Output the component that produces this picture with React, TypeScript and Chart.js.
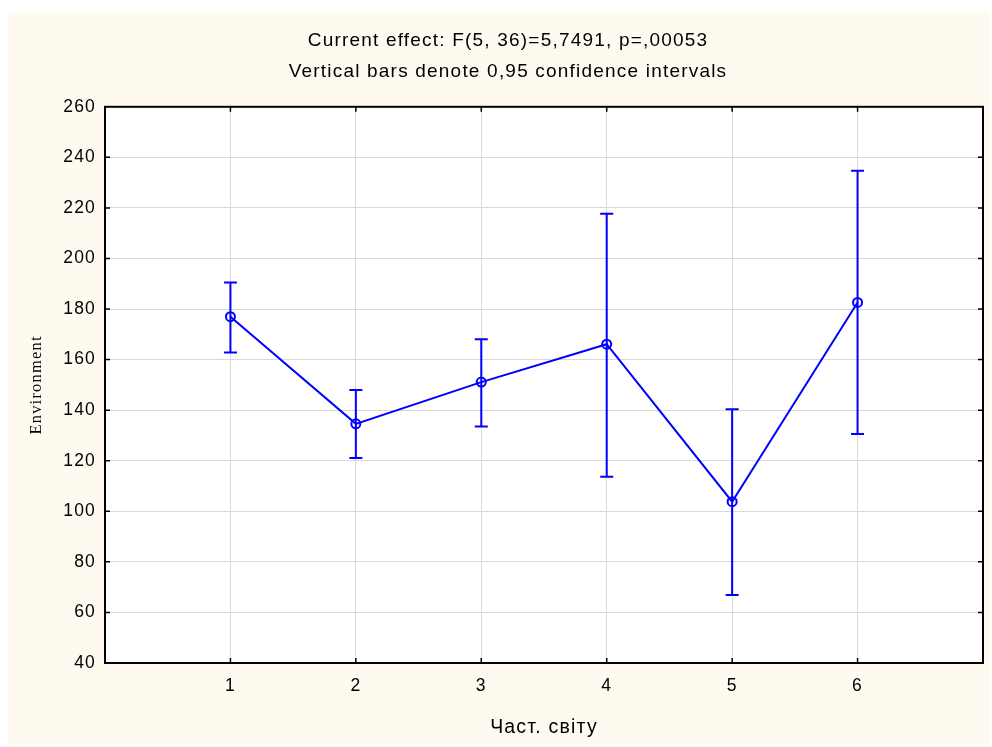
import React, { useEffect, useRef } from 'react';
import { Chart, registerables } from 'chart.js';

Chart.register(...registerables);

// ---- data ----
const groups = [1, 2, 3, 4, 5, 6];
const means = [177.0, 134.6, 151.1, 166.1, 103.8, 182.6];
const upper = [190.5, 148.0, 168.1, 217.7, 140.4, 234.7];
const lower = [162.8, 121.1, 133.5, 113.7, 66.9, 130.6];
const titleLines = [
  'Current effect: F(5, 36)=5,7491, p=,00053',
  'Vertical bars denote 0,95 confidence intervals',
];
const xTitle = 'Част. світу';
const yTitle = 'Environment';
const yMin = 40;
const yMax = 260;
const yStep = 20;
const xMin = 0;
const xMax = 7;

const CREAM = '#FFFAF0';
const BLUE = '#0000FF';
const SPACING = '1.2px';

const spacingPlugin = {
  id: 'spacing',
  beforeUpdate(chart: any) {
    chart.ctx.letterSpacing = SPACING;
  },
  beforeDraw(chart: any) {
    chart.ctx.letterSpacing = SPACING;
  },
};

const backgroundPlugin = {
  id: 'bg',
  beforeDraw(chart: any) {
    const { ctx, chartArea, width, height } = chart;
    ctx.save();
    ctx.fillStyle = CREAM;
    ctx.fillRect(0, 0, width, height);
    ctx.fillStyle = '#FFFFFF';
    ctx.fillRect(chartArea.left, chartArea.top, chartArea.right - chartArea.left, chartArea.bottom - chartArea.top);
    ctx.restore();
  },
};

const errorBarPlugin = {
  id: 'errbars',
  beforeDatasetsDraw(chart: any) {
    const { ctx } = chart;
    const x = chart.scales.x;
    const y = chart.scales.y;
    ctx.save();
    ctx.strokeStyle = BLUE;
    ctx.lineWidth = 2;
    groups.forEach((g, i) => {
      const px = x.getPixelForValue(g);
      const yt = y.getPixelForValue(upper[i]);
      const yb = y.getPixelForValue(lower[i]);
      ctx.beginPath();
      ctx.moveTo(px, yt);
      ctx.lineTo(px, yb);
      ctx.moveTo(px - 6.5, yt);
      ctx.lineTo(px + 6.5, yt);
      ctx.moveTo(px - 6.5, yb);
      ctx.lineTo(px + 6.5, yb);
      ctx.stroke();
    });
    ctx.restore();
  },
};

const framePlugin = {
  id: 'frame',
  afterDraw(chart: any) {
    const { ctx, chartArea } = chart;
    const { left, right, top, bottom } = chartArea;
    const x = chart.scales.x;
    const y = chart.scales.y;
    ctx.save();
    ctx.strokeStyle = '#000000';
    ctx.lineWidth = 1.5;
    ctx.beginPath();
    y.ticks.forEach((t: any) => {
      if (t.value <= yMin || t.value >= yMax) return;
      const py = y.getPixelForValue(t.value);
      ctx.moveTo(left, py);
      ctx.lineTo(left + 5, py);
      ctx.moveTo(right - 5, py);
      ctx.lineTo(right, py);
    });
    x.ticks.forEach((t: any) => {
      if (t.value <= xMin || t.value >= xMax) return;
      const px = x.getPixelForValue(t.value);
      ctx.moveTo(px, bottom);
      ctx.lineTo(px, bottom - 5);
      ctx.moveTo(px, top);
      ctx.lineTo(px, top + 5);
    });
    ctx.stroke();
    ctx.lineWidth = 2;
    ctx.strokeRect(left, top, right - left, bottom - top);
    ctx.restore();
  },
};

export default function App() {
  const ref = useRef<HTMLCanvasElement | null>(null);

  useEffect(() => {
    if (!ref.current) return;
    const chart = new Chart(ref.current, {
      type: 'scatter',
      data: {
        datasets: [
          {
            data: groups.map((g, i) => ({ x: g, y: means[i] })),
            showLine: true,
            borderColor: BLUE,
            borderWidth: 2,
            pointRadius: 4.5,
            pointHoverRadius: 4.5,
            pointBorderWidth: 2,
            pointBorderColor: BLUE,
            pointBackgroundColor: 'rgba(0,0,0,0)',
          } as any,
        ],
      },
      options: {
        responsive: false,
        animation: false,
        devicePixelRatio: 1,
        layout: { padding: { left: 25, right: 7, top: 0, bottom: 0 } },
        plugins: {
          legend: { display: false },
          tooltip: { enabled: false },
          title: {
            display: true,
            text: titleLines,
            color: '#000000',
            font: { family: 'Liberation Sans', size: 19, lineHeight: 1.6, weight: 'normal' },
            padding: { top: 14, bottom: 20 },
          },
        },
        scales: {
          x: {
            type: 'linear',
            min: xMin,
            max: xMax,
            afterFit(s: any) {
              s.height = 81;
              s.paddingLeft = 0;
              s.paddingRight = 0;
            },
            grid: { color: '#D9D9D9', lineWidth: 1, drawTicks: false },
            border: { display: false },
            ticks: {
              stepSize: 1,
              autoSkip: false,
              maxRotation: 0,
              color: '#000000',
              padding: 13,
              font: { family: 'Liberation Sans', size: 17.5 },
              callback: (v: any) => (v > xMin && v < xMax ? String(v) : ''),
            },
            title: {
              display: true,
              text: xTitle,
              color: '#000000',
              font: { family: 'Liberation Sans', size: 19.5 },
              padding: { top: 0, bottom: 5 },
            },
          },
          y: {
            type: 'linear',
            min: yMin,
            max: yMax,
            afterFit(s: any) {
              s.width = 72;
            },
            grid: { color: '#D9D9D9', lineWidth: 1, drawTicks: false },
            border: { display: false },
            ticks: {
              stepSize: yStep,
              autoSkip: false,
              color: '#000000',
              padding: 9,
              font: { family: 'Liberation Sans', size: 17.5 },
            },
            title: {
              display: true,
              text: yTitle,
              color: '#000000',
              font: { family: 'Liberation Serif', size: 16.5 },
              padding: { top: -6, bottom: 0 },
            },
          },
        },
      } as any,
      plugins: [spacingPlugin, backgroundPlugin, errorBarPlugin, framePlugin],
    });
    return () => chart.destroy();
  }, []);

  return (
    <div style={{ position: 'absolute', left: 8, top: 12, width: 982, height: 732, background: CREAM }}>
      <canvas ref={ref} width={982} height={732} style={{ display: 'block' }} />
    </div>
  );
}
